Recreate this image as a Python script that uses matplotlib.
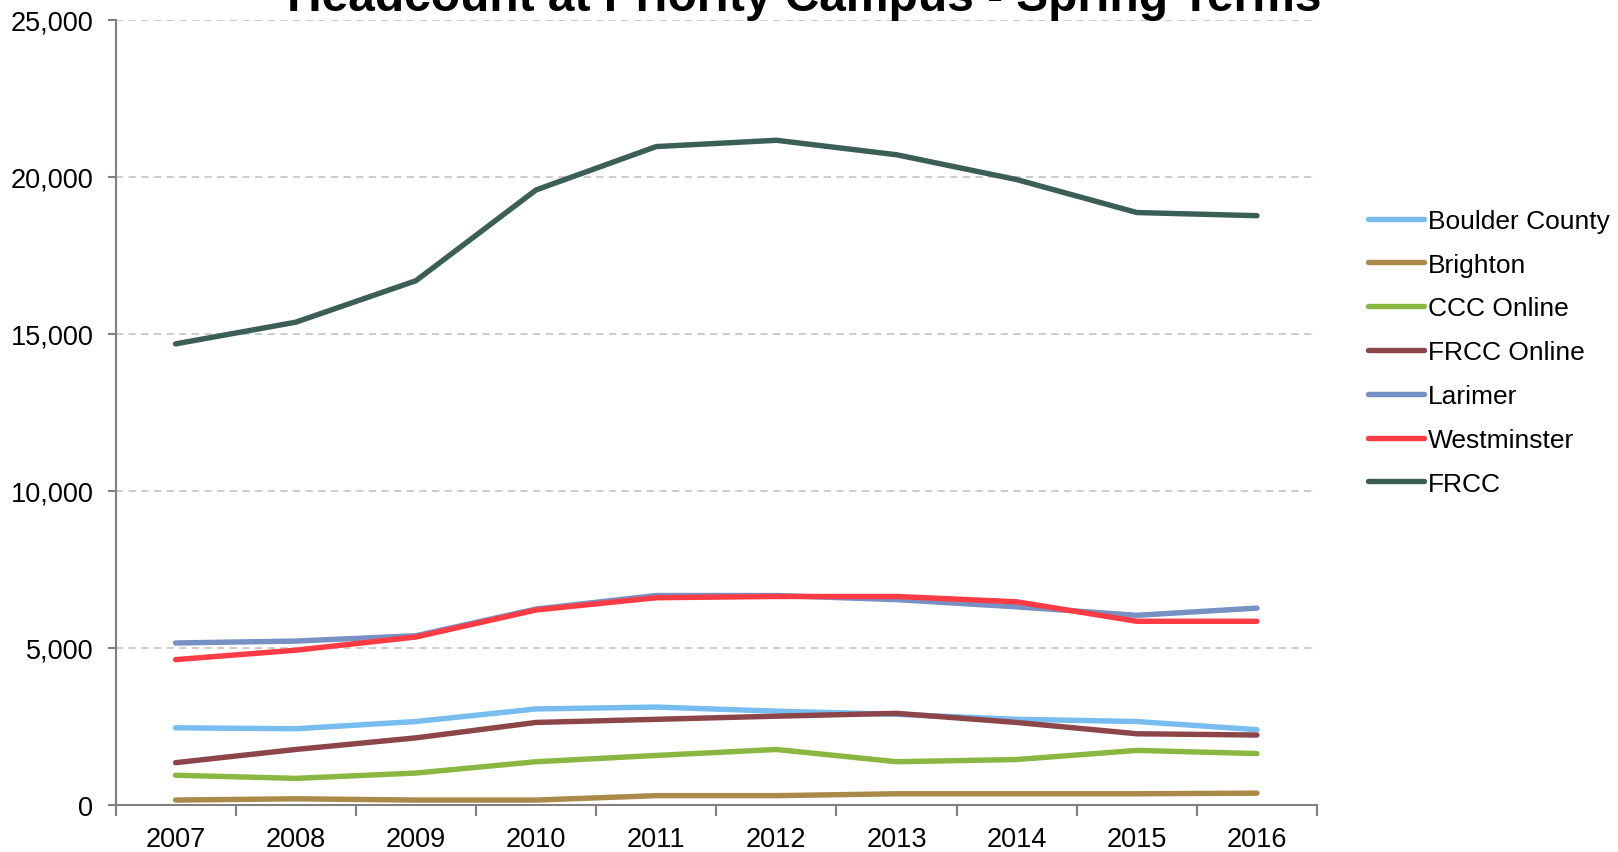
import numpy as np
import matplotlib
matplotlib.use("Agg")
import matplotlib.pyplot as plt
from matplotlib.ticker import FuncFormatter, FixedLocator

plt.rcParams['font.family'] = ['Liberation Sans', 'DejaVu Sans']

# datos
years = ['2007', '2008', '2009', '2010', '2011', '2012', '2013', '2014', '2015', '2016']
boulder = [2460, 2430, 2660, 3060, 3120, 2990, 2890, 2730, 2660, 2400]
brighton = [160, 200, 160, 160, 300, 300, 360, 360, 360, 380]
ccc_online = [950, 850, 1020, 1380, 1580, 1770, 1380, 1450, 1740, 1640]
frcc_online = [1350, 1770, 2140, 2630, 2730, 2830, 2920, 2630, 2270, 2230]
larimer = [5160, 5220, 5390, 6240, 6670, 6670, 6540, 6310, 6040, 6270]
westminster = [4630, 4930, 5350, 6210, 6600, 6640, 6640, 6470, 5850, 5850]
frcc = [14680, 15370, 16690, 19580, 20960, 21160, 20700, 19910, 18860, 18760]

series = [
    ('Boulder County', boulder, '#77BDF0'),
    ('Brighton', brighton, '#A98A48'),
    ('CCC Online', ccc_online, '#8AB742'),
    ('FRCC Online', frcc_online, '#8C4649'),
    ('Larimer', larimer, '#7791C5'),
    ('Westminster', westminster, '#FF3B44'),
    ('FRCC', frcc, '#3B5F56'),
]

fig = plt.figure(figsize=(16.18, 8.53), dpi=100)
ax = fig.add_axes([0.0714, 0.055, 0.7426, 0.9208])

x = np.arange(len(years))
for nombre, valores, color in series:
    ax.plot(x, valores, color=color, lw=3.9, label=nombre, solid_capstyle='round')

ax.set_xlim(-0.5, len(years) - 0.5)
ax.set_ylim(0, 25000)

# lineas de cuadricula
ax.set_yticks(np.arange(0, 25001, 5000))
ax.yaxis.set_major_formatter(FuncFormatter(lambda v, p: f'{int(v):,}'))
for yv in np.arange(5000, 25001, 5000):
    ax.axhline(yv, color='#C8C8C8', lw=1.3, ls=(0, (4, 3)), zorder=0)

# ticks del eje x en los bordes de las categorias
ax.set_xticks(x)
ax.set_xticklabels(years)
ax.xaxis.set_minor_locator(FixedLocator(np.arange(-0.5, len(years), 1)))
ax.tick_params(axis='x', which='major', length=0, pad=15, labelsize=19.5)
ax.tick_params(axis='x', which='minor', length=8, width=1.5, color='#808080', direction='out')
ax.tick_params(axis='y', length=6, width=1.5, color='#808080', labelsize=19.5, pad=10)

for s in ['top', 'right']:
    ax.spines[s].set_visible(False)
for s in ['left', 'bottom']:
    ax.spines[s].set_color('#808080')
    ax.spines[s].set_linewidth(1.5)

fig.legend(loc='upper left', bbox_to_anchor=(0.8457, 0.754), frameon=False,
           fontsize=19, handlelength=2.1, handletextpad=0.15, labelspacing=0.75,
           borderaxespad=0, borderpad=0)

fig.text(0.497, 0.987, 'Headcount at Priority Campus - Spring Terms', ha='center',
         va='baseline', fontsize=34.5, fontweight='bold')

fig.savefig('out.png', dpi=100)
